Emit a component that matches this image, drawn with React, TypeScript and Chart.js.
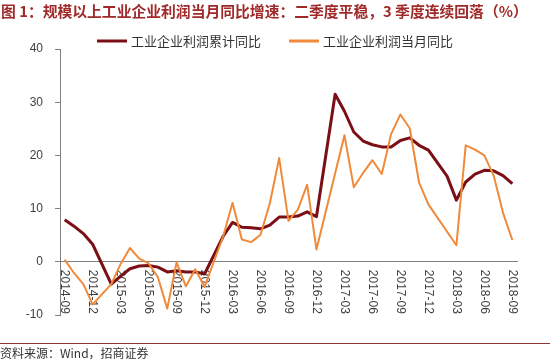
import React, { useEffect, useRef } from 'react';
import { Chart, registerables } from 'chart.js';

Chart.register(...registerables);

const months = [
  '2014-09', '2014-10', '2014-11', '2014-12',
  '2015-01', '2015-02', '2015-03', '2015-04', '2015-05', '2015-06', '2015-07', '2015-08', '2015-09', '2015-10', '2015-11', '2015-12',
  '2016-01', '2016-02', '2016-03', '2016-04', '2016-05', '2016-06', '2016-07', '2016-08', '2016-09', '2016-10', '2016-11', '2016-12',
  '2017-01', '2017-02', '2017-03', '2017-04', '2017-05', '2017-06', '2017-07', '2017-08', '2017-09', '2017-10', '2017-11', '2017-12',
  '2018-01', '2018-02', '2018-03', '2018-04', '2018-05', '2018-06', '2018-07', '2018-08', '2018-09',
];

const tickLabels = [
  '2014-09', '2014-12', '2015-03', '2015-06', '2015-09', '2015-12', '2016-03', '2016-06', '2016-09',
  '2016-12', '2017-03', '2017-06', '2017-09', '2017-12', '2018-03', '2018-06', '2018-09',
];

// 工业企业利润累计同比 (%)
const cumulative: (number | null)[] = [
  7.9, 6.7, 5.3, 3.3,
  null, -4.2, -2.7, -1.3, -0.8, -0.7, -1.0, -1.9, -1.7, -1.9, -1.9, -2.3,
  null, 4.8, 7.4, 6.5, 6.4, 6.2, 6.9, 8.4, 8.4, 8.6, 9.4, 8.5,
  null, 31.5, 28.3, 24.4, 22.7, 22.0, 21.6, 21.6, 22.8, 23.3, 21.9, 21.0,
  null, 16.1, 11.6, 15.0, 16.5, 17.2, 17.1, 16.2, 14.7,
];

// 工业企业利润当月同比 (%)
const monthly: (number | null)[] = [
  0.4, -2.1, -4.2, -8.0,
  null, -4.2, -0.4, 2.6, 0.6, -0.3, -2.9, -8.8, -0.1, -4.6, -1.4, -4.7,
  null, 4.8, 11.1, 4.2, 3.7, 5.1, 11.0, 19.5, 7.7, 9.8, 14.5, 2.3,
  null, null, 23.8, 14.0, 16.7, 19.1, 16.5, 24.0, 27.7, 25.1, 14.9, 10.8,
  null, null, 3.1, 21.9, 21.1, 20.0, 16.2, 9.2, 4.1,
];

const seriesNames = ['工业企业利润累计同比', '工业企业利润当月同比'];
const seriesColors = ['#7A0F16', '#F08A3A'];

const yTicks = [-10, 0, 10, 20, 30, 40];

const titleText = '图 1：规模以上工业企业利润当月同比增速：二季度平稳，3 季度连续回落（%）';
const sourceText = '资料来源：Wind，招商证券';

const CJK = '"Noto Sans CJK SC", "Noto Sans", sans-serif';
const LATIN = '"Liberation Sans", Arial, sans-serif';

const decorPlugin = {
  id: 'decor',
  beforeDatasetsDraw(chart: any) {
    const { ctx } = chart;
    const xs = chart.scales.x;
    const ys = chart.scales.y;
    const y0 = ys.getPixelForValue(0);
    ctx.save();
    ctx.font = `12px ${LATIN}`;
    ctx.fillStyle = '#404040';
    ctx.textAlign = 'left';
    ctx.textBaseline = 'middle';
    months.forEach((m, i) => {
      if (!tickLabels.includes(m)) return;
      const x = xs.getPixelForValue(i);
      ctx.save();
      ctx.translate(x, y0 + 8);
      ctx.rotate(Math.PI / 2);
      ctx.fillText(m, 0, 0);
      ctx.restore();
    });
    ctx.restore();
  },
  afterDraw(chart: any) {
    const { ctx, width } = chart;
    ctx.save();
    // title
    ctx.font = `bold 14.8px ${CJK}`;
    ctx.fillStyle = '#A02A2A';
    ctx.textAlign = 'left';
    ctx.textBaseline = 'middle';
    ctx.fillText(titleText, 1, 11.5);

    // legend
    ctx.font = `13px ${CJK}`;
    const sample = 30;
    const gapText = 4;
    const gapItem = 28;
    const widths = chart.data.datasets.map((d: any) => sample + gapText + ctx.measureText(d.label).width);
    const total = widths.reduce((a: number, b: number) => a + b, 0) + gapItem * (widths.length - 1);
    let x = width / 2 - total / 2;
    const ly = 41;
    chart.data.datasets.forEach((d: any, i: number) => {
      ctx.strokeStyle = d.borderColor;
      ctx.lineWidth = 3;
      ctx.beginPath();
      ctx.moveTo(x, ly);
      ctx.lineTo(x + sample, ly);
      ctx.stroke();
      ctx.fillStyle = '#333333';
      ctx.fillText(d.label, x + sample + gapText, ly);
      x += widths[i] + gapItem;
    });

    // footer
    ctx.strokeStyle = '#8E3535';
    ctx.lineWidth = 1;
    ctx.beginPath();
    ctx.moveTo(0, 343.5);
    ctx.lineTo(width, 343.5);
    ctx.stroke();
    ctx.font = `12px ${CJK}`;
    ctx.fillStyle = '#333333';
    ctx.fillText(sourceText, 0, 353);
    ctx.restore();
  },
};

export default function App() {
  const ref = useRef<HTMLCanvasElement | null>(null);

  useEffect(() => {
    document.body.style.margin = '0';
    const canvas = ref.current;
    if (!canvas) return;
    const chart = new Chart(canvas, {
      type: 'line',
      data: {
        labels: months,
        datasets: [
          {
            label: seriesNames[0],
            data: cumulative,
            borderColor: seriesColors[0],
            backgroundColor: seriesColors[0],
            borderWidth: 3,
            pointRadius: 0,
            tension: 0,
            spanGaps: true,
            borderJoinStyle: 'round',
            order: 1,
          },
          {
            label: seriesNames[1],
            data: monthly,
            borderColor: seriesColors[1],
            backgroundColor: seriesColors[1],
            borderWidth: 2,
            pointRadius: 0,
            tension: 0,
            spanGaps: true,
            borderJoinStyle: 'round',
            order: 0,
          },
        ],
      },
      options: {
        responsive: false,
        animation: false,
        devicePixelRatio: 1,
        layout: { padding: { top: 49, bottom: 45, left: 0, right: 33 } },
        plugins: {
          legend: { display: false },
          title: { display: false },
          tooltip: { enabled: false },
        },
        scales: {
          x: {
            type: 'category',
            position: { y: 0 } as any,
            offset: true,
            grid: { display: false, drawTicks: false },
            border: { display: true, color: '#808080', width: 1 },
            ticks: { display: false },
          },
          y: {
            min: yTicks[0],
            max: yTicks[yTicks.length - 1],
            afterFit: (scale: any) => {
              scale.width = 60;
            },
            afterBuildTicks: (scale: any) => {
              scale.ticks = yTicks.map((v) => ({ value: v }));
            },
            grid: { drawOnChartArea: false, drawTicks: true, tickLength: 5, color: '#808080' },
            border: { display: true, color: '#808080', width: 1 },
            ticks: {
              padding: 12,
              color: '#404040',
              font: { family: LATIN, size: 12 },
            },
          },
        },
      },
      plugins: [decorPlugin],
    });
    return () => chart.destroy();
  }, []);

  return (
    <div style={{ width: 550, height: 360 }}>
      <canvas ref={ref} width={550} height={360} style={{ display: 'block' }} />
    </div>
  );
}
